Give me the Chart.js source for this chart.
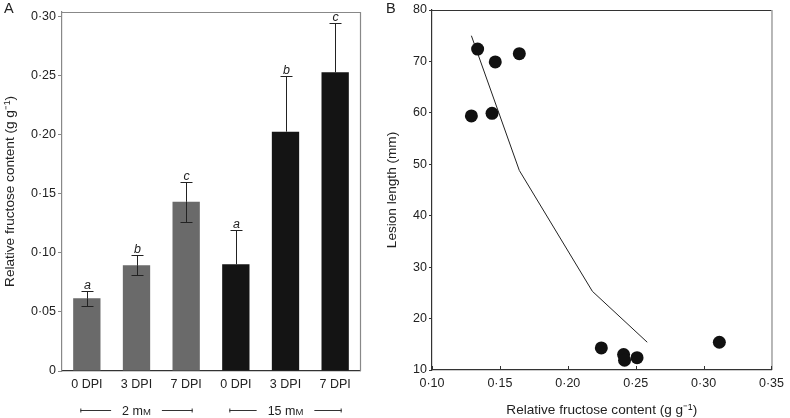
<!DOCTYPE html>
<html><head><meta charset="utf-8">
<script src="https://cdn.jsdelivr.net/npm/chart.js@4"></script>
<style>
html,body{margin:0;padding:0;background:#fff;}
#wrap{position:relative;width:790px;height:418px;overflow:hidden;}
#ca{position:absolute;left:0;top:0;}
#cb{position:absolute;left:380px;top:0;}
</style></head><body>
<div id="wrap">
<canvas id="ca" width="380" height="418"></canvas>
<canvas id="cb" width="410" height="418"></canvas>
</div>
<script>
// ---- Panel A data ----
const categoriesA = ['0 DPI', '3 DPI', '7 DPI', '0 DPI', '3 DPI', '7 DPI'];
const groupLabelsA = ['2 m', '15 m'];   // followed by small-caps "M"
const groupIndexA = [[0, 2], [3, 5]];
const fructoseMean = [0.0616, 0.0896, 0.1434, 0.0904, 0.2028, 0.2531];
const fructoseErr = [0.0065, 0.0083, 0.0170, 0.0290, 0.0470, 0.0420];
const letterLabels = ['a', 'b', 'c', 'a', 'b', 'c'];
const yTicksA = [0, 0.05, 0.10, 0.15, 0.20, 0.25, 0.30];

// ---- Panel B data ----
const fructoseB = [0.1336, 0.1466, 0.1643, 0.1290, 0.1442, 0.2247, 0.2411, 0.2418, 0.2510, 0.3116];
const lesionB = [72.4, 69.9, 71.5, 59.4, 59.9, 14.3, 13.0, 11.9, 12.4, 15.4];
const fitX = [0.1290, 0.1643, 0.2181, 0.2585];
const fitY = [75.0, 48.8, 25.3, 15.4];
const xTicksB = [0.10, 0.15, 0.20, 0.25, 0.30, 0.35];
const yTicksB = [10, 20, 30, 40, 50, 60, 70, 80];

const FAM = '"Liberation Sans", Arial, Helvetica, sans-serif';
const FONT = {family: FAM, size: 12.5};
const TFONT = {family: FAM, size: 13.6};
const TXT = '#222';
const fmtDot = v => (v === 0 ? '0' : Number(v).toFixed(2).replace('.', '\u00B7'));

const GRAY = '#6a6a6a', BLACK = '#141414';
const barColors = [GRAY, GRAY, GRAY, BLACK, BLACK, BLACK];

const panelLetter = (letter, x) => ({
  id: 'panelLetter',
  afterDraw(chart) {
    const ctx = chart.ctx;
    ctx.save();
    ctx.fillStyle = TXT;
    ctx.font = '14.5px ' + FAM;
    ctx.textBaseline = 'alphabetic';
    ctx.textAlign = 'left';
    ctx.fillText(letter, x, 12.5);
    ctx.restore();
  }
});

const errorPlugin = {
  id: 'errorBars',
  afterDatasetsDraw(chart) {
    const ctx = chart.ctx;
    const meta = chart.getDatasetMeta(0);
    const ys = chart.scales.y;
    ctx.save();
    ctx.lineWidth = 1;
    meta.data.forEach((bar, i) => {
      const x = Math.round(bar.x) + 0.5;
      const yt = Math.round(ys.getPixelForValue(fructoseMean[i] + fructoseErr[i])) + 0.5;
      const yb = Math.round(ys.getPixelForValue(fructoseMean[i] - fructoseErr[i])) + 0.5;
      const yv = ys.getPixelForValue(fructoseMean[i]);
      ctx.strokeStyle = '#222';
      ctx.beginPath();
      ctx.moveTo(x, yt); ctx.lineTo(x, yv);
      ctx.moveTo(x - 6, yt); ctx.lineTo(x + 6, yt);
      ctx.stroke();
      if (barColors[i] === GRAY) {
        ctx.beginPath();
        ctx.moveTo(x, yv); ctx.lineTo(x, yb);
        ctx.moveTo(x - 6, yb); ctx.lineTo(x + 6, yb);
        ctx.stroke();
      }
      ctx.fillStyle = TXT;
      ctx.font = 'italic 12.5px ' + FAM;
      ctx.textAlign = 'center';
      ctx.textBaseline = 'alphabetic';
      ctx.fillText(letterLabels[i], x, yt - 3);
    });
    ctx.restore();
  }
};

const frameA = {
  id: 'frameA',
  afterDraw(chart) {
    const {ctx, chartArea: a} = chart;
    ctx.save();
    ctx.strokeStyle = '#888';
    ctx.lineWidth = 1.2;
    ctx.beginPath();
    ctx.moveTo(a.left, a.top + 0.5); ctx.lineTo(a.right + 0.5, a.top + 0.5);
    ctx.lineTo(a.right + 0.5, a.bottom);
    ctx.stroke();
    ctx.restore();
  }
};

const groupPlugin = {
  id: 'groups',
  afterDraw(chart) {
    const ctx = chart.ctx;
    const xs = chart.scales.x;
    const y = 410.5;
    const base = 415;
    ctx.save();
    ctx.strokeStyle = '#333';
    ctx.fillStyle = TXT;
    ctx.lineWidth = 1;
    groupIndexA.forEach((g, k) => {
      const x0 = xs.getPixelForValue(g[0]) - 6.5;
      const x1 = xs.getPixelForValue(g[1]) + 6.5;
      const cx = (x0 + x1) / 2;
      ctx.font = '12.5px ' + FAM;
      const w1 = ctx.measureText(groupLabelsA[k]).width;
      ctx.font = '9.5px ' + FAM;
      const w2 = ctx.measureText('M').width;
      const w = w1 + w2;
      const tx = cx - w / 2;
      ctx.textBaseline = 'alphabetic';
      ctx.textAlign = 'left';
      ctx.font = '12.5px ' + FAM;
      ctx.fillText(groupLabelsA[k], tx, base);
      ctx.font = '9.5px ' + FAM;
      ctx.fillText('M', tx + w1, base);
      ctx.beginPath();
      ctx.moveTo(x0, y); ctx.lineTo(tx - 11, y);
      ctx.moveTo(tx + w + 11, y); ctx.lineTo(x1, y);
      ctx.moveTo(x0 + 0.5, y - 2); ctx.lineTo(x0 + 0.5, y + 2);
      ctx.moveTo(x1 - 0.5, y - 2); ctx.lineTo(x1 - 0.5, y + 2);
      ctx.stroke();
    });
    ctx.restore();
  }
};

new Chart(document.getElementById('ca'), {
  type: 'bar',
  data: {
    labels: categoriesA,
    datasets: [{
      data: fructoseMean,
      backgroundColor: barColors,
      borderWidth: 0,
      barPercentage: 0.55,
      categoryPercentage: 1.0
    }]
  },
  options: {
    responsive: false,
    animation: false,
    devicePixelRatio: 1,
    layout: {padding: {top: 12, right: 20, left: 0, bottom: 0}},
    plugins: {legend: {display: false}, tooltip: {enabled: false}},
    scales: {
      x: {
        grid: {drawOnChartArea: false, drawTicks: false},
        border: {color: '#333', width: 1.2},
        ticks: {color: TXT, font: FONT, padding: 6, maxRotation: 0},
        afterFit: s => { s.height = 47; }
      },
      y: {
        min: 0, max: 0.3042,
        afterBuildTicks: s => { s.ticks = yTicksA.map(v => ({value: v})); },
        grid: {drawOnChartArea: false, drawTicks: true, tickLength: 4, color: '#888'},
        border: {color: '#888', width: 1.2},
        ticks: {color: TXT, font: FONT, padding: 2, callback: v => fmtDot(v)},
        title: {display: true, text: 'Relative fructose content (g g\u207B\u00B9)', color: TXT, font: TFONT, padding: {top: 2, bottom: 0}},
        afterFit: s => { s.width = 62; }
      }
    }
  },
  plugins: [errorPlugin, frameA, groupPlugin, panelLetter('A', 4)]
});

const frameB = {
  id: 'frameB',
  afterDraw(chart) {
    const {ctx, chartArea: a} = chart;
    ctx.save();
    ctx.lineWidth = 1.2;
    ctx.strokeStyle = '#333';
    ctx.beginPath();
    ctx.moveTo(a.left, a.top + 0.5); ctx.lineTo(a.right, a.top + 0.5);
    ctx.stroke();
    ctx.strokeStyle = '#888';
    ctx.beginPath();
    ctx.moveTo(a.right + 0.5, a.top); ctx.lineTo(a.right + 0.5, a.bottom);
    ctx.stroke();
    ctx.strokeStyle = '#333';
    ctx.lineWidth = 1;
    ctx.beginPath();
    xTicksB.forEach(v => {
      const x = Math.round(chart.scales.x.getPixelForValue(v)) + 0.5;
      ctx.moveTo(x, a.bottom); ctx.lineTo(x, a.bottom - 4);
    });
    ctx.stroke();
    ctx.restore();
  }
};

new Chart(document.getElementById('cb'), {
  type: 'scatter',
  data: {
    datasets: [
      {
        data: fructoseB.map((x, i) => ({x: x, y: lesionB[i]})),
        pointRadius: 6.5,
        pointBackgroundColor: '#111',
        pointBorderColor: '#111',
        pointBorderWidth: 0,
        showLine: false
      },
      {
        data: fitX.map((x, i) => ({x: x, y: fitY[i]})),
        showLine: true,
        pointRadius: 0,
        borderColor: '#222',
        borderWidth: 1,
        fill: false,
        tension: 0
      }
    ]
  },
  options: {
    responsive: false,
    animation: false,
    devicePixelRatio: 1,
    layout: {padding: {top: 10, right: 11, left: 0, bottom: 0}},
    plugins: {legend: {display: false}, tooltip: {enabled: false}},
    scales: {
      x: {
        type: 'linear', min: 0.10, max: 0.35,
        afterBuildTicks: s => { s.ticks = xTicksB.map(v => ({value: v})); },
        grid: {drawOnChartArea: false, drawTicks: false},
        border: {color: '#333', width: 1.2},
        ticks: {color: TXT, font: FONT, padding: 6, maxRotation: 0, callback: v => fmtDot(v)},
        title: {display: true, text: 'Relative fructose content (g g\u207B\u00B9)', color: TXT, font: TFONT, padding: {top: 0, bottom: 0}},
        afterFit: s => { s.height = 48; }
      },
      y: {
        min: 10, max: 80,
        afterBuildTicks: s => { s.ticks = yTicksB.map(v => ({value: v})); },
        grid: {drawOnChartArea: false, drawTicks: true, tickLength: 3, color: '#333'},
        border: {color: '#333', width: 1.2},
        ticks: {color: TXT, font: FONT, padding: 2},
        title: {display: true, text: 'Lesion length (mm)', color: TXT, font: TFONT, padding: {top: 4.5, bottom: 0}},
        afterFit: s => { s.width = 52; }
      }
    }
  },
  plugins: [frameB, panelLetter('B', 6)]
});
</script>
</body></html>
